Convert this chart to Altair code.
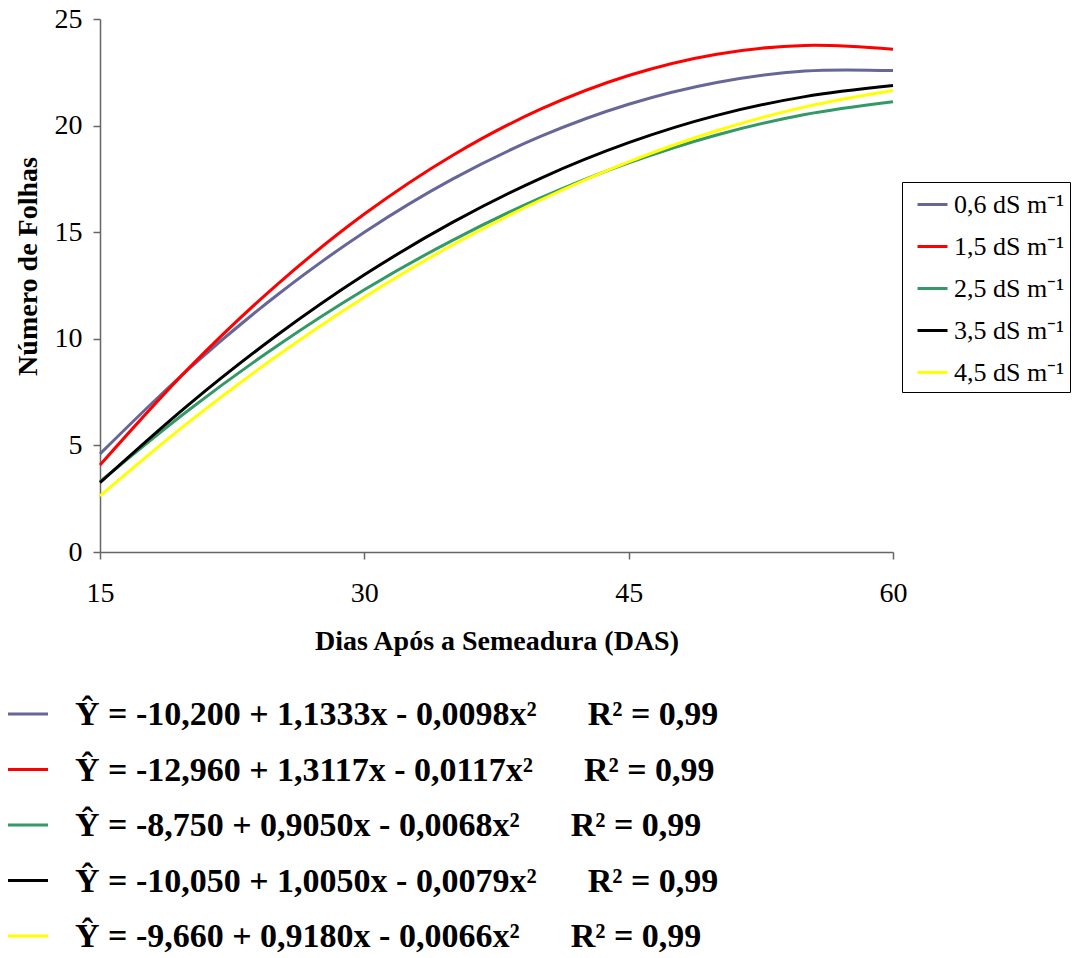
import altair as alt
import pandas as pd

days = [15, 20, 25, 30, 35, 40, 45, 50, 55, 60]
s06 = [4.60, 8.56, 12.02, 15.00, 17.49, 19.49, 21.00, 22.02, 22.56, 22.58]
s15 = [4.08, 8.59, 12.51, 15.85, 18.60, 20.77, 22.35, 23.35, 23.76, 23.58]
s25 = [3.30, 6.64, 9.64, 12.30, 14.62, 16.61, 18.25, 19.56, 20.52, 21.12]
s35 = [3.25, 6.89, 10.14, 13.00, 15.46, 17.53, 19.20, 20.48, 21.36, 21.88]
s45 = [2.63, 6.07, 9.17, 11.95, 14.40, 16.51, 18.30, 19.76, 20.88, 21.65]

labels = ["0,6 dS m⁻¹", "1,5 dS m⁻¹", "2,5 dS m⁻¹", "3,5 dS m⁻¹", "4,5 dS m⁻¹"]
colors = ["#666699", "#FF0000", "#339966", "#000000", "#FFFF00"]
NB = "\u00a0"
equations = [
    "Ŷ = -10,200 + 1,1333x - 0,0098x²" + NB * 6 + "R² = 0,99",
    "Ŷ = -12,960 + 1,3117x - 0,0117x²" + NB * 6 + "R² = 0,99",
    "Ŷ = -8,750 + 0,9050x - 0,0068x²" + NB * 6 + "R² = 0,99",
    "Ŷ = -10,050 + 1,0050x - 0,0079x²" + NB * 6 + "R² = 0,99",
    "Ŷ = -9,660 + 0,9180x - 0,0066x²" + NB * 6 + "R² = 0,99",
]

series = [s06, s15, s25, s35, s45]
rows = []
for lab, vals in zip(labels, series):
    for d, v in zip(days, vals):
        rows.append({"dias": d, "folhas": v, "serie": lab})
df = pd.DataFrame(rows)
eq_df = pd.DataFrame({"serie": labels, "eq": equations})

FONT = "Liberation Serif"

color_scale = alt.Scale(domain=labels, range=colors)

lines = alt.Chart(df).mark_line(interpolate="catmull-rom", strokeWidth=3).encode(
    x=alt.X("dias:Q", scale=alt.Scale(domain=[15, 60], nice=False),
            axis=alt.Axis(values=[15, 30, 45, 60], title="Dias Após a Semeadura (DAS)",
                          tickSize=7, labelPadding=20, titlePadding=20, grid=False,
                          labelFlush=False)),
    y=alt.Y("folhas:Q", scale=alt.Scale(domain=[0, 25], nice=False),
            axis=alt.Axis(values=[0, 5, 10, 15, 20, 25], title="Número de Folhas",
                          tickSize=7, labelPadding=11, titlePadding=12, grid=False,
                          titleY=247, labelFlush=False)),
    color=alt.Color("serie:N", scale=color_scale, sort=labels,
                    legend=alt.Legend(title=None, orient="none", legendX=802, legendY=163,
                                      labelExpr="datum.label + '\u00a0\u00a0\u00a0'")),
)

eq_y = alt.Y("serie:N", sort=labels,
             scale=alt.Scale(type="point", domain=labels, range=[695, 917], padding=0),
             axis=None)

dashes = alt.Chart(eq_df).mark_rule(strokeWidth=3).encode(
    x=alt.value(-92), x2=alt.value(-52), y=eq_y,
    color=alt.Color("serie:N", scale=color_scale, sort=labels),
)

eq_text = alt.Chart(eq_df).mark_text(
    align="left", baseline="middle", dy=1, font=FONT, fontSize=34,
    fontWeight="bold", color="black"
).encode(x=alt.value(-25), y=eq_y, text="eq:N")

chart = alt.layer(lines, dashes, eq_text).resolve_scale(y="independent").properties(
    width=793, height=533,
    background="white",
    autosize=alt.AutoSizeParams(type="none"),
    padding={"left": 100, "top": 19, "right": 191, "bottom": 406},
).configure_view(stroke=None).configure_axis(
    labelFont=FONT, labelFontSize=28, labelColor="black",
    titleFont=FONT, titleFontSize=28, titleFontWeight="bold", titleColor="black",
    domainColor="#666666", tickColor="#666666", domainWidth=1.5, tickWidth=1.5,
).configure_legend(
    symbolType="stroke", symbolStrokeWidth=3, symbolSize=900, symbolOffset=8,
    labelFont=FONT, labelFontSize=26, labelColor="black", labelOffset=5,
    labelLimit=300, rowPadding=12, padding=6, strokeColor="black", fillColor="white",
)

chart.save("out.html", embed_options={"renderer": "svg", "actions": False})
